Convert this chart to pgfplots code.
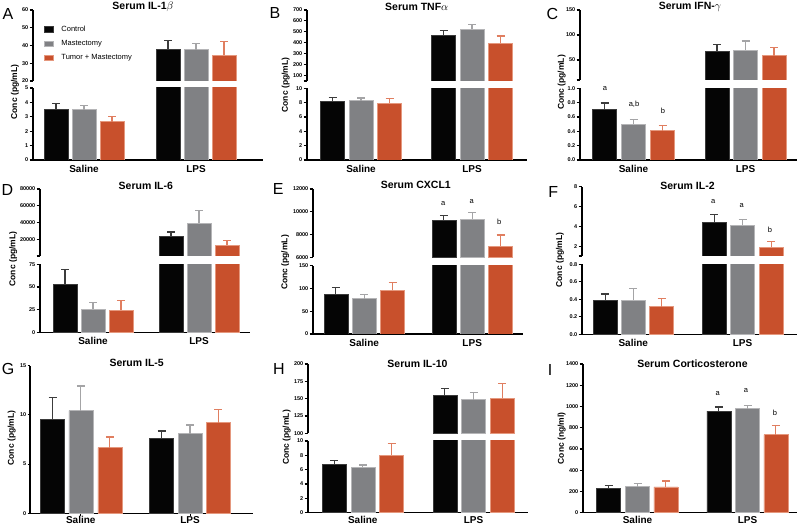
\documentclass[border=0pt]{standalone}
\usepackage{fontspec}
\setmainfont{Liberation Sans}
\usepackage{pgfplots}
\pgfplotsset{compat=1.18}

\definecolor{ctl}{HTML}{050505}
\definecolor{ctlB}{HTML}{3A3A3A}
\definecolor{ctlE}{HTML}{3C3C3C}
\definecolor{mas}{HTML}{808184}
\definecolor{masB}{HTML}{B5B5B7}
\definecolor{masE}{HTML}{A4A4A6}
\definecolor{tum}{HTML}{C8502C}
\definecolor{tumB}{HTML}{E5987E}
\definecolor{tumE}{HTML}{E07E60}

\newcommand\tickf{\fontsize{5.5}{6}\selectfont\bfseries}
\newcommand\catf{\fontsize{10}{12}\selectfont\bfseries}
\newcommand\titf{\fontsize{10.5}{12}\selectfont\bfseries}
\newcommand\labf{\fontsize{8.5}{10}\selectfont\bfseries}
\newcommand\legf{\fontsize{7.5}{9}\selectfont}
\newcommand\panf{\fontsize{16}{18}\selectfont}
\newcommand\letf{\fontsize{7.5}{8}\selectfont}

\pgfplotsset{
  bp/.style={scale only axis, anchor=south west, ybar, bar width=24pt, bar shift=0pt,
    axis y line*=left, axis line style={-, line width=1.1pt, black},
    tick align=outside, major tick length=3.5pt,
    ytick style={line width=1.1pt, black},
    yticklabel style={font=\tickf, inner sep=1pt},
    /pgf/number format/assume math mode=true, /pgf/number format/1000 sep={},
    scaled y ticks=false, clip=true},
  up/.style={bp, axis x line=none},
  lo/.style={bp, axis x line*=bottom, xtick style={draw=none},
    xticklabel style={font=\catf, inner sep=1.5pt}},
  lob/.style={lo, xticklabel style={inner sep=0.3pt}},
  bC/.style={fill=ctl, draw=ctlB, line width=0.5pt, bar shift=0pt},
  bM/.style={fill=mas, draw=masB, line width=0.5pt, bar shift=0pt},
  bT/.style={fill=tum, draw=tumB, line width=0.5pt, bar shift=0pt},
  eC/.style={error bars/.cd, y dir=plus, y explicit,
    error bar style={line width=1.1pt, ctlE},
    error mark options={rotate=90, mark size=4pt, line width=1.1pt, ctlE}},
  eM/.style={error bars/.cd, y dir=plus, y explicit,
    error bar style={line width=1.1pt, masE},
    error mark options={rotate=90, mark size=4pt, line width=1.1pt, masE}},
  eT/.style={error bars/.cd, y dir=plus, y explicit,
    error bar style={line width=1.1pt, tumE},
    error mark options={rotate=90, mark size=4pt, line width=1.1pt, tumE}},
  dec/.style={yticklabel style={/pgf/number format/.cd, fixed, fixed zerofill, precision=1}},
}

\begin{document}
\begin{tikzpicture}
\path[use as bounding box] (0pt,0pt) rectangle (800pt,526pt);

% ================= A: IL-1beta =================
\begin{axis}[up, at={(33pt,445pt)}, width=230pt, height=71pt,
  xmin=33, xmax=263, ymin=20, ymax=60, ytick={20,30,40,50,60},
  legend style={at={(0.048,0.80)}, anchor=north west, draw=none, fill=none,
    font=\legf, row sep=3.4pt, inner sep=0pt, cells={anchor=west}},
  legend image code/.code={\draw[#1] (0pt,-2.6pt) rectangle (9pt,3.2pt);
    \path[draw=none, fill=none] (0pt,0pt) -- (15pt,0pt);}]
\addplot[bC, eC] coordinates {(168,38.0) +- (0,4.7)};
\addplot[bM, eM] coordinates {(196,37.6) +- (0,3.5)};
\addplot[bT, eT] coordinates {(224,34.6) +- (0,7.4)};
\legend{Control, Mastectomy, Tumor + Mastectomy}
\end{axis}
% lower segment: LPS bars (38.0, 37.6, 34.6) run past the break
\begin{axis}[lo, at={(33pt,366pt)}, width=230pt, height=72pt,
  xmin=33, xmax=263, ymin=0, ymax=5, ytick={0,1,2,3,4,5},
  xtick={84,196}, xticklabels={Saline,LPS}]
\addplot[bC, eC] coordinates {(56,3.53) +- (0,0.37)};
\addplot[bM, eM] coordinates {(84,3.49) +- (0,0.28)};
\addplot[bT, eT] coordinates {(112,2.67) +- (0,0.35)};
\addplot[bC] coordinates {(168,6)};
\addplot[bM] coordinates {(196,6)};
\addplot[bT] coordinates {(224,6)};
\end{axis}

% ================= B: TNF-alpha =================
\begin{axis}[up, at={(307pt,445pt)}, width=220pt, height=71pt,
  xmin=307, xmax=527, ymin=50, ymax=700, ytick={100,200,300,400,500,600,700},
  extra y ticks={50}, extra y tick labels={}]
\addplot[bC, eC] coordinates {(443.5,465) +- (0,46)};
\addplot[bM, eM] coordinates {(472,523) +- (0,46)};
\addplot[bT, eT] coordinates {(500.5,395) +- (0,67)};
\end{axis}
\begin{axis}[lo, at={(307pt,366pt)}, width=220pt, height=71.7pt,
  xmin=307, xmax=527, ymin=0, ymax=10, ytick={0,2,4,6,8,10},
  xtick={361,472}, xticklabels={Saline,LPS}]
\addplot[bC, eC] coordinates {(332.5,8.14) +- (0,0.56)};
\addplot[bM, eM] coordinates {(361,8.28) +- (0,0.37)};
\addplot[bT, eT] coordinates {(389.5,7.90) +- (0,0.66)};
\addplot[bC] coordinates {(443.5,12)};
\addplot[bM] coordinates {(472,12)};
\addplot[bT] coordinates {(500.5,12)};
\end{axis}

% ================= C: IFN-gamma =================
\begin{axis}[up, at={(580pt,446pt)}, width=217pt, height=70pt,
  xmin=580, xmax=797, ymin=10, ymax=150, ytick={50,100,150},
  extra y ticks={10}, extra y tick labels={}]
\addplot[bC, eC] coordinates {(717,66.7) +- (0,14.6)};
\addplot[bM, eM] coordinates {(745.5,70.0) +- (0,18.0)};
\addplot[bT, eT] coordinates {(774,58.7) +- (0,16.6)};
\end{axis}
\begin{axis}[lo, dec, at={(580pt,366pt)}, width=217pt, height=71.7pt,
  xmin=580, xmax=797, ymin=0, ymax=1, ytick={0,0.2,0.4,0.6,0.8,1.0},
  xtick={633.5,745.5}, xticklabels={Saline,LPS}]
\addplot[bC, eC] coordinates {(604.5,0.712) +- (0,0.083)};
\addplot[bM, eM] coordinates {(633.5,0.502) +- (0,0.061)};
\addplot[bT, eT] coordinates {(662.5,0.409) +- (0,0.070)};
\addplot[bC] coordinates {(717,1.2)};
\addplot[bM] coordinates {(745.5,1.2)};
\addplot[bT] coordinates {(774,1.2)};
\end{axis}

% ================= D: IL-6 =================
\begin{axis}[up, at={(40pt,270pt)}, width=210pt, height=67pt,
  xmin=40, xmax=250, ymin=0, ymax=80000, ytick={20000,40000,60000,80000},
  extra y ticks={0}, extra y tick labels={}]
\addplot[bC, eC] coordinates {(171,23200) +- (0,5500)};
\addplot[bM, eM] coordinates {(199,39000) +- (0,15100)};
\addplot[bT, eT] coordinates {(227,13240) +- (0,4760)};
\end{axis}
\begin{axis}[lo, at={(40pt,193.7pt)}, width=210pt, height=68pt,
  xmin=40, xmax=250, ymin=0, ymax=75, ytick={0,25,50,75},
  xtick={93,199}, xticklabels={Saline,LPS}]
\addplot[bC, eC] coordinates {(65,52.9) +- (0,16.6)};
\addplot[bM, eM] coordinates {(93,25.4) +- (0,7.3)};
\addplot[bT, eT] coordinates {(121,24.6) +- (0,10.7)};
\addplot[bC] coordinates {(171,90)};
\addplot[bM] coordinates {(199,90)};
\addplot[bT] coordinates {(227,90)};
\end{axis}

% ================= E: CXCL1 =================
\begin{axis}[up, at={(313pt,268.7pt)}, width=210pt, height=68.3pt,
  xmin=313, xmax=523, ymin=6000, ymax=12000, ytick={6000,8000,10000,12000}]
\addplot[bC, eC] coordinates {(443.8,9219) +- (0,439)};
\addplot[bM, eM] coordinates {(472.2,9366) +- (0,556)};
\addplot[bT, eT] coordinates {(500.5,6966) +- (0,995)};
\end{axis}
\begin{axis}[lo, at={(313pt,192pt)}, width=210pt, height=68.3pt,
  xmin=313, xmax=523, ymin=0, ymax=150, ytick={0,50,100,150},
  xtick={364.2,472.2}, xticklabels={Saline,LPS}]
\addplot[bC, eC] coordinates {(335.8,87.1) +- (0,14.6)};
\addplot[bM, eM] coordinates {(364.2,77.6) +- (0,8.7)};
\addplot[bT, eT] coordinates {(392.5,95.8) +- (0,16.9)};
\addplot[bC] coordinates {(443.8,180)};
\addplot[bM] coordinates {(472.2,180)};
\addplot[bT] coordinates {(500.5,180)};
\end{axis}

% ================= F: IL-2 =================
\begin{axis}[up, at={(582pt,270pt)}, width=215pt, height=69.3pt,
  xmin=582, xmax=797, ymin=1, ymax=8, ytick={2,4,6,8},
  extra y ticks={1}, extra y tick labels={}]
\addplot[bC, eC] coordinates {(714.2,4.43) +- (0,0.80)};
\addplot[bM, eM] coordinates {(742.5,4.10) +- (0,0.57)};
\addplot[bT, eT] coordinates {(771.2,1.90) +- (0,0.57)};
\end{axis}
\begin{axis}[lo, dec, at={(582pt,191.7pt)}, width=215pt, height=70pt,
  xmin=582, xmax=797, ymin=0, ymax=0.8, ytick={0,0.2,0.4,0.6,0.8},
  xtick={633.3,742.5}, xticklabels={Saline,LPS}]
\addplot[bC, eC] coordinates {(605.3,0.385) +- (0,0.076)};
\addplot[bM, eM] coordinates {(633.3,0.392) +- (0,0.134)};
\addplot[bT, eT] coordinates {(661.7,0.316) +- (0,0.092)};
\addplot[bC] coordinates {(714.2,1.0)};
\addplot[bM] coordinates {(742.5,1.0)};
\addplot[bT] coordinates {(771.2,1.0)};
\end{axis}

% ================= G: IL-5 =================
\begin{axis}[lob, at={(30pt,12.7pt)}, width=223pt, height=147.6pt,
  xmin=30, xmax=253, ymin=0, ymax=15, ytick={0,5,10,15},
  xtick={80.8,190}, xticklabels={Saline,LPS},
  xtick style={draw=black, line width=1pt}, major tick length=2.5pt]
\addplot[bC, eC] coordinates {(52.5,9.58) +- (0,2.20) (161.5,7.65) +- (0,0.71)};
\addplot[bM, eM] coordinates {(80.8,10.43) +- (0,2.51) (190,8.09) +- (0,0.88)};
\addplot[bT, eT] coordinates {(109.8,6.67) +- (0,1.08) (218.2,9.21) +- (0,1.32)};
\end{axis}

% ================= H: IL-10 =================
\begin{axis}[up, at={(308pt,92.7pt)}, width=220pt, height=69.3pt,
  xmin=308, xmax=528, ymin=100, ymax=200, ytick={100,125,150,175,200}]
\addplot[bC, eC] coordinates {(444.8,155.3) +- (0,9.6)};
\addplot[bM, eM] coordinates {(473.5,148.6) +- (0,10.1)};
\addplot[bT, eT] coordinates {(502.2,150.5) +- (0,21.1)};
\end{axis}
\begin{axis}[lob, at={(308pt,13.3pt)}, width=220pt, height=71.7pt,
  xmin=308, xmax=528, ymin=0, ymax=10, ytick={0,2,4,6,8,10},
  xtick={362.8,473.5}, xticklabels={Saline,LPS}]
\addplot[bC, eC] coordinates {(334.2,6.79) +- (0,0.51)};
\addplot[bM, eM] coordinates {(362.8,6.33) +- (0,0.32)};
\addplot[bT, eT] coordinates {(391.7,8.05) +- (0,1.58)};
\addplot[bC] coordinates {(444.8,12)};
\addplot[bM] coordinates {(473.5,12)};
\addplot[bT] coordinates {(502.2,12)};
\end{axis}

% ================= I: Corticosterone =================
\begin{axis}[lob, at={(583pt,13.3pt)}, width=214pt, height=148.7pt,
  xmin=583, xmax=797, ymin=0, ymax=1400, ytick={0,200,400,600,800,1000,1200,1400},
  xtick={637.5,747.5}, xticklabels={Saline,LPS}]
\addplot[bC, eC] coordinates {(608.5,229) +- (0,28) (718.8,957) +- (0,38)};
\addplot[bM, eM] coordinates {(637.5,245) +- (0,31) (747.5,979) +- (0,28)};
\addplot[bT, eT] coordinates {(665.8,242) +- (0,56) (775.8,734) +- (0,91)};
\end{axis}

% ================= titles =================
\node[font=\titf] at (143pt,519pt) {Serum IL-1$\beta$};
\node[font=\titf] at (416.7pt,519pt) {Serum TNF$\alpha$};
\node[font=\titf] at (690pt,519pt) {Serum IFN-$\gamma$};
\node[font=\titf] at (145.8pt,340.5pt) {Serum IL-6};
\node[font=\titf] at (415.8pt,341pt) {Serum CXCL1};
\node[font=\titf] at (687.5pt,340.5pt) {Serum IL-2};
\node[font=\titf] at (136.7pt,162.7pt) {Serum IL-5};
\node[font=\titf] at (417.5pt,162pt) {Serum IL-10};
\node[font=\titf] at (692.5pt,162pt) {Serum Corticosterone};

% ================= panel letters =================
\node[font=\panf] at (8pt,512pt) {A};
\node[font=\panf] at (275pt,513pt) {B};
\node[font=\panf] at (552.5pt,512pt) {C};
\node[font=\panf] at (7.5pt,336pt) {D};
\node[font=\panf] at (278.3pt,337pt) {E};
\node[font=\panf] at (553.3pt,334.3pt) {F};
\node[font=\panf] at (8pt,157pt) {G};
\node[font=\panf] at (279pt,157pt) {H};
\node[font=\panf] at (550pt,156pt) {I};

% ================= y labels =================
\node[font=\labf, rotate=90] at (15pt,434pt) {Conc (pg/mL)};
\node[font=\labf, rotate=90] at (285.7pt,441pt) {Conc (pg/mL)};
\node[font=\labf, rotate=90] at (561.7pt,443.5pt) {Conc (pg/mL)};
\node[font=\labf, rotate=90] at (13.3pt,267pt) {Conc (pg/mL)};
\node[font=\labf, rotate=90] at (285.3pt,263.5pt) {Conc (pg/mL)};
\node[font=\labf, rotate=90] at (560pt,266pt) {Conc (pg/mL)};
\node[font=\labf, rotate=90] at (11.7pt,88pt) {Conc (pg/mL)};
\node[font=\labf, rotate=90] at (286.7pt,88.5pt) {Conc (pg/mL)};
\node[font=\labf, rotate=90] at (561.7pt,87.7pt) {Conc (ng/ml)};

% ================= significance letters =================
\node[font=\letf] at (605pt,437pt) {a};
\node[font=\letf] at (634pt,422pt) {a,b};
\node[font=\letf] at (663pt,415.3pt) {b};
\node[font=\letf] at (443.3pt,322.7pt) {a};
\node[font=\letf] at (471.7pt,324.3pt) {a};
\node[font=\letf] at (499.3pt,303.7pt) {b};
\node[font=\letf] at (713.3pt,324.3pt) {a};
\node[font=\letf] at (741.7pt,320.3pt) {a};
\node[font=\letf] at (770pt,296pt) {b};
\node[font=\letf] at (717.7pt,132.7pt) {a};
\node[font=\letf] at (746pt,135.3pt) {a};
\node[font=\letf] at (775pt,112.7pt) {b};
\end{tikzpicture}
\end{document}
